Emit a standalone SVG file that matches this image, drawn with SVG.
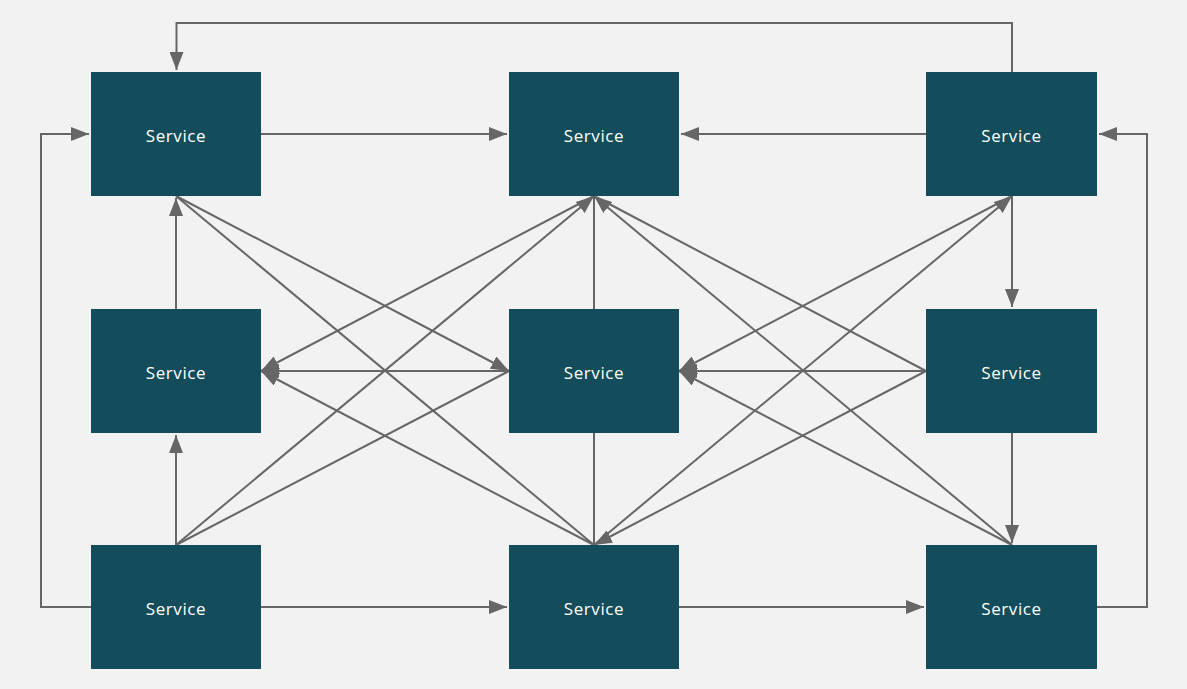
<svg xmlns="http://www.w3.org/2000/svg" width="1187" height="689" viewBox="0 0 1187 689">
<style>
.n{fill:#134d5b}
.t{fill:#ffffff;font-family:"Open Sans","DejaVu Sans",sans-serif;font-size:17px;letter-spacing:0.6px;text-anchor:middle;dominant-baseline:central}
.e{fill:none;stroke:#666666;stroke-width:2}
.a{marker-end:url(#ah)}
</style>
<defs>
<marker id="ah" markerUnits="userSpaceOnUse" markerWidth="20" markerHeight="14" refX="18" refY="7" orient="auto">
<path d="M0,0 L18,7 L0,14 Z" fill="#666666"/>
</marker>
</defs>
<rect width="1187" height="689" fill="#f2f2f2"/>
<g id="connectors">
<path class="e a" d="M1012,72 V23 H176.5 V70"/>
<path class="e a" d="M91,607 H41 V134 H89"/>
<path class="e a" d="M1097,607 H1147 V134 H1099"/>
<path class="e a" d="M261,134 H507"/>
<path class="e a" d="M926,134 H681"/>
<path class="e a" d="M176,309 V198"/>
<path class="e a" d="M176,545 V435"/>
<path class="e a" d="M261,607 H507"/>
<path class="e a" d="M679,607 H924"/>
<path class="e a" d="M1012,196 V307"/>
<path class="e a" d="M1012,433 V543"/>
<path class="e" d="M594,309 V196"/>
<path class="e" d="M594,433 V545"/>
<path class="e a" d="M176,196 L509,371"/>
<path class="e" d="M176,196 L594,545"/>
<path class="e a" d="M594,196 L261,371"/>
<path class="e a" d="M176,545 L594,196"/>
<path class="e" d="M176,545 L509,371"/>
<path class="e a" d="M594,545 L261,371"/>
<path class="e a" d="M509,371 H261"/>
<path class="e" d="M594,196 L926,371"/>
<path class="e a" d="M1012,545 L594,196"/>
<path class="e a" d="M1012,196 L679,371"/>
<path class="e a" d="M594,545 L1012,196"/>
<path class="e a" d="M926,371 H679"/>
<path class="e a" d="M926,371 L594,545"/>
<path class="e a" d="M1012,545 L679,371"/>
</g>
<g id="n1"><rect class="n" x="91" y="72" width="170" height="124"/><text class="t" x="176" y="135">Service</text></g>
<g id="n2"><rect class="n" x="509" y="72" width="170" height="124"/><text class="t" x="594" y="135">Service</text></g>
<g id="n3"><rect class="n" x="926" y="72" width="171" height="124"/><text class="t" x="1011.5" y="135">Service</text></g>
<g id="n4"><rect class="n" x="91" y="309" width="170" height="124"/><text class="t" x="176" y="372">Service</text></g>
<g id="n5"><rect class="n" x="509" y="309" width="170" height="124"/><text class="t" x="594" y="372">Service</text></g>
<g id="n6"><rect class="n" x="926" y="309" width="171" height="124"/><text class="t" x="1011.5" y="372">Service</text></g>
<g id="n7"><rect class="n" x="91" y="545" width="170" height="124"/><text class="t" x="176" y="608">Service</text></g>
<g id="n8"><rect class="n" x="509" y="545" width="170" height="124"/><text class="t" x="594" y="608">Service</text></g>
<g id="n9"><rect class="n" x="926" y="545" width="171" height="124"/><text class="t" x="1011.5" y="608">Service</text></g>
</svg>
